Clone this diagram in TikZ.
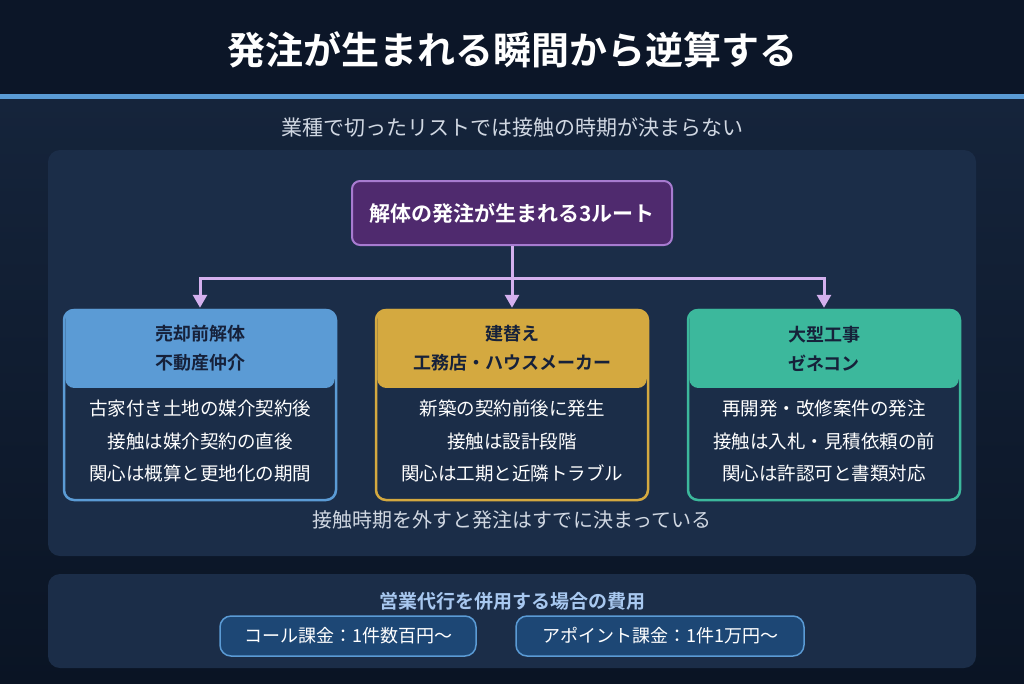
\documentclass[tikz,border=0pt]{standalone}
\usepackage{fontspec}
\setmainfont{Noto Sans CJK JP}[BoldFont={Noto Sans CJK JP Bold}]
\usetikzlibrary{positioning,arrows.meta}

\definecolor{bgtop}{HTML}{0C1628}
\definecolor{bgmid}{HTML}{15243B}
\definecolor{bgbot}{HTML}{0A1424}
\definecolor{panel}{HTML}{1B2D48}
\definecolor{accent}{HTML}{5B9BD5}
\definecolor{rootfill}{HTML}{4F2A6E}
\definecolor{rootline}{HTML}{A77BD0}
\definecolor{linkcol}{HTML}{D4B0EE}
\definecolor{gold}{HTML}{D4A940}
\definecolor{teal}{HTML}{3CB89C}
\definecolor{softtext}{HTML}{D0D7E2}
\definecolor{darktext}{HTML}{16213A}
\definecolor{pillfill}{HTML}{1D4775}
\definecolor{costtitle}{HTML}{A8C8F0}

\tikzset{
  card/.style={draw=#1,line width=2.5pt,rounded corners=10pt,minimum width=272pt,minimum height=190pt,fill=panel,inner sep=0pt},
  cardhead/.style={fill=#1,rounded corners=9pt,minimum width=269.5pt,minimum height=79pt,inner sep=0pt,text=darktext,align=center,font=\bfseries\fontsize{18}{29}\selectfont},
  cardbody/.style={text=white,align=center,font=\fontsize{18.5}{32.5}\selectfont},
  pill/.style={draw=accent,fill=pillfill,line width=1.5pt,rounded corners=11pt,minimum height=40pt,text=white,font=\fontsize{18}{22}\selectfont},
  link/.style={draw=linkcol,line width=3pt},
}

\begin{document}
\begin{tikzpicture}[x=1pt,y=-1pt]
  \useasboundingbox (0,0) rectangle (1024,683);
  % background
  \fill[bgtop] (0,0) rectangle (1024,95);
  \shade[top color=bgmid,bottom color=bgbot] (0,99) rectangle (1024,683);
  \fill[accent] (0,94) rectangle (1024,99);

  \node[text=white,font=\bfseries\fontsize{38}{40}\selectfont] (title) at (512,50) {発注が生まれる瞬間から逆算する};
  \node[text=softtext,font=\fontsize{21}{24}\selectfont] (subtitle) at (512,127) {業種で切ったリストでは接触の時期が決まらない};

  % main panel
  \node[fill=panel,rounded corners=12pt,minimum width=928pt,minimum height=406pt,inner sep=0pt] (board) at (512,353) {};

  \node[fill=rootfill,draw=rootline,line width=2pt,rounded corners=8pt,minimum width=320pt,minimum height=64pt,text=white,font=\bfseries\fontsize{21}{24}\selectfont] (root) at (512,213) {解体の発注が生まれる3ルート};

  % three routes
  \node[card=accent] (sale) at (200,405) {};
  \node[card=gold,right=37.5pt of sale] (rebuild) {};
  \node[card=teal,right=37.5pt of rebuild] (major) {};

  \node[cardhead=accent,below=0pt of sale.north,anchor=north] (salehead) {売却前解体\\不動産仲介};
  \node[cardhead=gold,below=0pt of rebuild.north,anchor=north] (rebuildhead) {建替え\\工務店・ハウスメーカー};
  \node[cardhead=teal,below=0pt of major.north,anchor=north] (majorhead) {大型工事\\ゼネコン};

  \node[cardbody] (saletext) at ([yshift=-36pt]sale.center) {古家付き土地の媒介契約後\\接触は媒介契約の直後\\関心は概算と更地化の期間};
  \node[cardbody] (rebuildtext) at ([yshift=-36pt]rebuild.center) {新築の契約前後に発生\\接触は設計段階\\関心は工期と近隣トラブル};
  \node[cardbody] (majortext) at ([yshift=-36pt]major.center) {再開発・改修案件の発注\\接触は入札・見積依頼の前\\関心は許認可と書類対応};

  % connectors
  \coordinate (fork) at (512,278);
  \draw[link] (root) -- (fork);
  \draw[link,-{Triangle[width=14pt,length=13pt]},shorten >=1pt] (fork) -| (sale.north);
  \draw[link,-{Triangle[width=14pt,length=13pt]},shorten >=1pt] (fork) -| (major.north);
  \draw[link,-{Triangle[width=14pt,length=13pt]},shorten >=1pt] (root) -- (rebuild.north);

  \node[text=softtext,font=\fontsize{20}{24}\selectfont] (note) at (512,520) {接触時期を外すと発注はすでに決まっている};

  % cost panel
  \node[fill=panel,rounded corners=12pt,minimum width=928pt,minimum height=94pt,inner sep=0pt] (costboard) at (512,621) {};
  \node[text=costtitle,font=\bfseries\fontsize{19}{22}\selectfont] (costtitle) at (512,601) {営業代行を併用する場合の費用};
  \node[pill,minimum width=256pt] (callfee) at (348,636) {コール課金：1件数百円～};
  \node[pill,minimum width=288pt,right=38.5pt of callfee] (apofee) {アポイント課金：1件1万円～};
\end{tikzpicture}
\end{document}
